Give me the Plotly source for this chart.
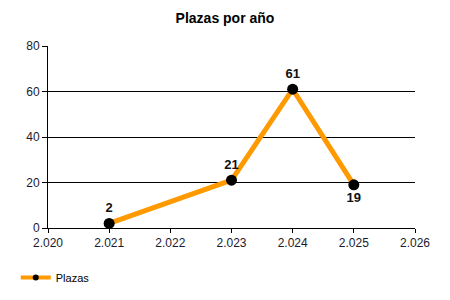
import plotly.graph_objects as go

years = [2021, 2023, 2024, 2025]
plazas = [2, 21, 61, 19]
label_pos = ["top center", "top center", "top center", "bottom center"]
x_ticks = [2020, 2021, 2022, 2023, 2024, 2025, 2026]
y_ticks = [0, 20, 40, 60, 80]

fig = go.Figure()
fig.add_trace(go.Scatter(
    x=years, y=plazas, name="Plazas",
    mode="lines+markers+text", showlegend=False,
    line=dict(color="#FF9900", width=5),
    marker=dict(color="black", size=11),
    text=[str(v) for v in plazas],
    textposition=label_pos,
    textfont=dict(family="Liberation Sans", size=13, color="#111111", weight="bold"),
))
# legend entry with a smaller marker, like the reference
fig.add_trace(go.Scatter(
    x=[None], y=[None], name="Plazas", mode="lines+markers",
    line=dict(color="#FF9900", width=4),
    marker=dict(color="black", size=6),
))

fig.update_layout(
    width=450, height=300,
    margin=dict(l=48, r=35, t=46, b=72, autoexpand=False),
    paper_bgcolor="white", plot_bgcolor="white",
    separators=",.",
    font=dict(family="Liberation Sans", size=12, color="#1a1a2e"),
    title=dict(text="<b>Plazas por año</b>", x=0.5, xanchor="center",
               y=0.94, yanchor="middle", font=dict(size=14, color="black")),
    showlegend=True,
    legend=dict(orientation="h", x=0.035, xref="container", xanchor="left",
                y=0.075, yref="container", yanchor="middle",
                font=dict(size=11, color="black"), itemwidth=30),
)
fig.update_xaxes(
    range=[2020, 2026], tickvals=x_ticks, tickformat=",d",
    showgrid=False, showline=True, linecolor="black", linewidth=1,
    ticks="outside", ticklen=4, tickcolor="black", zeroline=False,
)
fig.update_yaxes(
    range=[0, 80], tickvals=y_ticks,
    showgrid=True, gridcolor="black", gridwidth=1,
    showline=True, linecolor="black", linewidth=1,
    ticks="outside", ticklen=5, tickcolor="black", zeroline=False,
)

fig.write_html("out.html")
